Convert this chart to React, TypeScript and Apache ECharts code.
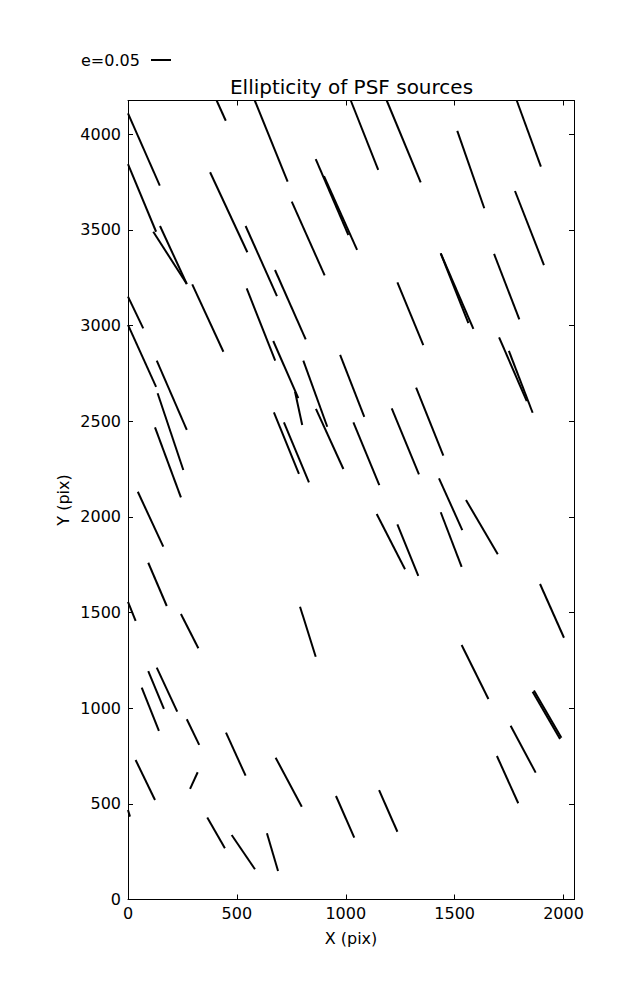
import React, { useEffect, useRef } from "react";
import * as echarts from "echarts";

// Whisker segments: [x1, y1, x2, y2] in CCD pixels
const segments: [number, number, number, number][] = [
  [407, 4176, 449, 4070],
  [582, 4176, 733, 3752],
  [1023, 4176, 1149, 3813],
  [1188, 4176, 1344, 3748],
  [1785, 4176, 1896, 3830],
  [0, 4109, 146, 3731],
  [0, 3843, 129, 3490],
  [116, 3490, 270, 3217],
  [147, 3520, 270, 3217],
  [377, 3801, 548, 3383],
  [862, 3870, 1012, 3473],
  [900, 3781, 1052, 3395],
  [752, 3647, 903, 3262],
  [1512, 4017, 1636, 3613],
  [1777, 3703, 1910, 3316],
  [540, 3520, 684, 3154],
  [675, 3290, 816, 2928],
  [545, 3194, 676, 2816],
  [295, 3215, 438, 2863],
  [0, 3151, 70, 2985],
  [0, 3003, 129, 2679],
  [132, 2816, 270, 2454],
  [667, 2919, 782, 2620],
  [767, 2654, 800, 2480],
  [805, 2816, 915, 2471],
  [974, 2846, 1085, 2523],
  [1436, 3377, 1563, 3012],
  [1436, 3377, 1586, 2982],
  [1681, 3374, 1797, 3032],
  [1237, 3226, 1356, 2898],
  [1704, 2938, 1831, 2605],
  [1749, 2867, 1858, 2544],
  [136, 2646, 254, 2245],
  [124, 2468, 243, 2102],
  [670, 2546, 785, 2224],
  [716, 2494, 831, 2180],
  [863, 2564, 989, 2250],
  [1323, 2675, 1448, 2320],
  [1211, 2567, 1336, 2222],
  [1035, 2494, 1154, 2166],
  [45, 2131, 162, 1844],
  [1428, 2201, 1535, 1931],
  [1552, 2088, 1698, 1804],
  [1436, 2024, 1532, 1739],
  [1142, 2015, 1272, 1726],
  [1237, 1961, 1333, 1692],
  [93, 1760, 178, 1534],
  [0, 1556, 35, 1456],
  [243, 1492, 323, 1313],
  [790, 1530, 862, 1269],
  [1892, 1649, 2002, 1368],
  [93, 1194, 165, 996],
  [132, 1212, 226, 982],
  [63, 1107, 142, 881],
  [270, 942, 327, 808],
  [450, 872, 540, 647],
  [678, 741, 798, 485],
  [35, 729, 124, 520],
  [285, 578, 320, 665],
  [955, 541, 1039, 323],
  [0, 468, 9, 433],
  [364, 428, 445, 268],
  [476, 337, 583, 158],
  [638, 346, 689, 149],
  [1153, 572, 1237, 354],
  [1532, 1330, 1655, 1048],
  [1858, 1086, 1984, 839],
  [1864, 1092, 1990, 845],
  [1757, 908, 1872, 663],
  [1694, 750, 1792, 503],
];

const xRange = [0, 2048];
const yRange = [0, 4176];
const tickStep = 500;
const titleText = "Ellipticity of PSF sources";
const xLabel = "X (pix)";
const yLabel = "Y (pix)";
const legendLabel = "e=0.05";

const FONT = "DejaVu Sans";

export default function App() {
  const ref = useRef<HTMLDivElement>(null);
  useEffect(() => {
    if (!ref.current) return;
    const chart = echarts.init(ref.current, null, { renderer: "svg" });
    const fmt = (v: number) => (v % tickStep === 0 ? String(v) : "");
    const baseAxis = (min: number, max: number) => ({
      type: "value" as const,
      min,
      max,
      interval: tickStep,
      splitLine: { show: false },
      axisLine: { show: true, onZero: false, lineStyle: { color: "#000", width: 1 } },
      axisTick: { show: true, inside: true, length: 5, lineStyle: { color: "#000", width: 1 } },
    });
    chart.setOption({
      animation: false,
      backgroundColor: "#fff",
      grid: { left: 128, top: 100.5, width: 446, height: 799, containLabel: false },
      xAxis: [
        {
          ...baseAxis(xRange[0], xRange[1]),
          position: "bottom",
          axisLabel: { show: true, formatter: fmt, color: "#000", fontFamily: FONT, fontSize: 16, margin: 6 },
        },
        {
          ...baseAxis(xRange[0], xRange[1]),
          position: "top",
          axisLabel: { show: false },
        },
      ],
      yAxis: [
        {
          ...baseAxis(yRange[0], yRange[1]),
          position: "left",
          axisLabel: { show: true, formatter: fmt, color: "#000", fontFamily: FONT, fontSize: 16, margin: 7 },
        },
        {
          ...baseAxis(yRange[0], yRange[1]),
          position: "right",
          axisLabel: { show: false },
        },
      ],
      graphic: [
        {
          type: "text",
          x: 351.5,
          y: 87,
          style: {
            text: titleText,
            x: 0,
            y: 0,
            fill: "#000",
            font: `20px ${FONT}`,
            textAlign: "center",
            textVerticalAlign: "middle",
          },
        },
        {
          type: "text",
          x: 351,
          y: 938,
          style: {
            text: xLabel,
            x: 0,
            y: 0,
            fill: "#000",
            font: `16px ${FONT}`,
            textAlign: "center",
            textVerticalAlign: "middle",
          },
        },
        {
          type: "text",
          x: 63,
          y: 500,
          rotation: Math.PI / 2,
          style: {
            text: yLabel,
            x: 0,
            y: 0,
            fill: "#000",
            font: `16px ${FONT}`,
            textAlign: "center",
            textVerticalAlign: "middle",
          },
        },
        {
          type: "text",
          x: 81,
          y: 60,
          style: {
            text: legendLabel,
            x: 0,
            y: 0,
            fill: "#000",
            font: `16px ${FONT}`,
            textAlign: "left",
            textVerticalAlign: "middle",
          },
        },
        {
          type: "line",
          shape: { x1: 151, y1: 60, x2: 171, y2: 60 },
          style: { stroke: "#000", lineWidth: 2 },
        },
      ],
      series: [
        {
          type: "lines",
          coordinateSystem: "cartesian2d",
          xAxisIndex: 0,
          yAxisIndex: 0,
          clip: true,
          silent: true,
          lineStyle: { color: "#000", width: 2, opacity: 1, curveness: 0 },
          data: segments.map((s) => ({ coords: [[s[0], s[1]], [s[2], s[3]]] })),
        },
      ],
    });
    return () => chart.dispose();
  }, []);
  return (
    <div
      ref={ref}
      style={{ position: "fixed", left: 0, top: 0, width: 637, height: 1000, background: "#fff" }}
    />
  );
}
